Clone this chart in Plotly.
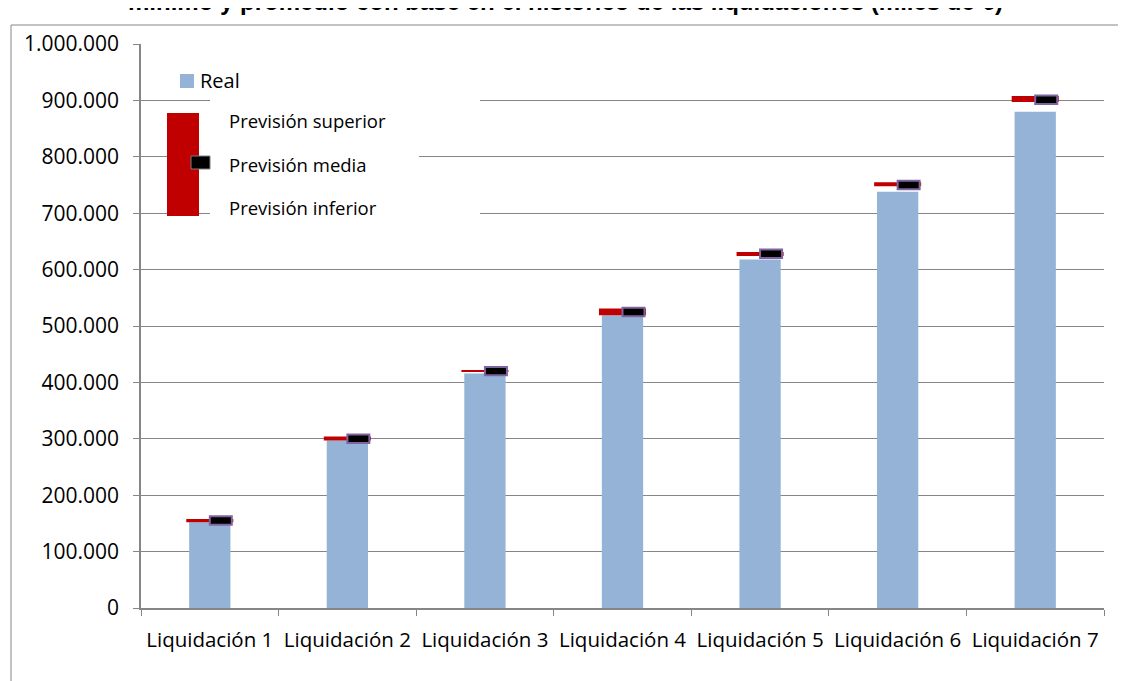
import plotly.graph_objects as go

categories = ["Liquidación 1", "Liquidación 2", "Liquidación 3", "Liquidación 4",
              "Liquidación 5", "Liquidación 6", "Liquidación 7"]
real = [152000, 297000, 416000, 519000, 618000, 738000, 880000]
prev_superior = [158000, 304000, 422000, 531000, 631000, 755000, 908000]
prev_inferior = [152000, 297000, 419000, 519000, 624000, 748000, 897000]
prev_media = [155000, 300000, 420000, 525000, 628000, 750000, 901000]

title_text = "mínimo y promedio con base en el histórico de las liquidaciones (miles de €)"

W, H = 1126, 681
BODY = 8  # default page body margin of the html output
PL, PT, PR, PB = 141, 44, 1104, 608  # plot area in page pixels
PW, PH = PR - PL, PB - PT
ML, MT = PL - BODY, PT - BODY
MR, MB = W - ML - PW, H - MT - PH


def px(x):
    return (x - PL) / PW


def py(y):
    return (PB - y) / PH


BLUE = "#95B3D7"
RED = "#C00000"
PURPLE = "#8064A2"
GRID = "#868686"
FONT = "Open Sans"
MARK_H = 15000

fig = go.Figure()
fig.add_trace(go.Bar(x=categories, y=real, width=0.3, marker_color=BLUE,
                     marker_line_width=0, name="Real", showlegend=False))
fig.add_trace(go.Bar(x=categories,
                     y=[s - i for s, i in zip(prev_superior, prev_inferior)],
                     base=prev_inferior, width=0.342, offset=-0.171,
                     marker_color=RED, marker_line_width=0,
                     name="Previsión superior/inferior", showlegend=False))
fig.add_trace(go.Bar(x=categories, y=[MARK_H] * len(prev_media),
                     base=[m - MARK_H / 2 for m in prev_media],
                     width=0.16, offset=0.0, marker_color="black",
                     marker_line_color=PURPLE, marker_line_width=2,
                     name="Previsión media", showlegend=False))

shapes = []
# outer chart frame
shapes.append(dict(type="rect", xref="paper", yref="paper",
                   x0=px(11), y0=py(25), x1=px(1160), y1=py(720),
                   line=dict(color=GRID, width=1), fillcolor="rgba(0,0,0,0)",
                   layer="above"))
# white backgrounds of legend texts (hide gridlines)
for (x0, x1, yc) in [(210, 480, 100), (210, 419, 156), (210, 480, 212)]:
    shapes.append(dict(type="rect", xref="paper", yref="paper",
                       x0=px(x0), x1=px(x1), y0=py(yc + 3), y1=py(yc - 3),
                       line=dict(width=0), fillcolor="white", layer="above"))
# legend swatches
shapes.append(dict(type="rect", xref="paper", yref="paper",
                   x0=px(180), x1=px(194), y0=py(88), y1=py(74),
                   line=dict(width=0), fillcolor=BLUE, layer="above"))
shapes.append(dict(type="rect", xref="paper", yref="paper",
                   x0=px(167), x1=px(199), y0=py(216), y1=py(113),
                   line=dict(width=0), fillcolor=RED, layer="above"))
shapes.append(dict(type="rect", xref="paper", yref="paper",
                   x0=px(191), x1=px(210), y0=py(169), y1=py(156),
                   line=dict(width=1, color="#7f7f7f"), fillcolor="black",
                   layer="above"))

annotations = [
    dict(text="<b>" + title_text + "</b>", xref="paper", yref="paper",
         x=px(565), y=py(2), xanchor="center", yanchor="middle", showarrow=False,
         font=dict(family="Liberation Sans", size=24, color="black")),
    dict(text="Real", xref="paper", yref="paper", x=px(198), y=py(81),
         xanchor="left", yanchor="middle", showarrow=False,
         font=dict(family=FONT, size=20, color="black")),
    dict(text="Previsión superior", xref="paper", yref="paper", x=px(227), y=py(121),
         xanchor="left", yanchor="middle", showarrow=False,
         font=dict(family=FONT, size=18.5, color="black")),
    dict(text="Previsión media", xref="paper", yref="paper", x=px(227), y=py(164),
         xanchor="left", yanchor="middle", showarrow=False,
         font=dict(family=FONT, size=18.5, color="black")),
    dict(text="Previsión inferior", xref="paper", yref="paper", x=px(227), y=py(207),
         xanchor="left", yanchor="middle", showarrow=False,
         font=dict(family=FONT, size=18.5, color="black")),
]

fig.update_layout(
    width=W, height=H,
    margin=dict(l=ML, r=MR, t=MT, b=MB),
    paper_bgcolor="white", plot_bgcolor="white",
    barmode="overlay",
    separators=",.",
    font=dict(family=FONT, size=18, color="black"),
    shapes=shapes,
    annotations=annotations,
    showlegend=False,
)
fig.update_xaxes(type="category", tickson="boundaries", ticks="outside", ticklen=6,
                 tickcolor=GRID, showline=True, linecolor=GRID, linewidth=1.5,
                 showgrid=False, tickfont=dict(family=FONT, size=20.5, color="black"),
                 ticklabelstandoff=13)
fig.update_yaxes(range=[0, 1000000], dtick=100000, tickformat=",d",
                 ticks="outside", ticklen=6, tickcolor=GRID,
                 showline=True, linecolor=GRID, linewidth=1.5,
                 showgrid=True, gridcolor=GRID, gridwidth=1, zeroline=False,
                 tickfont=dict(family=FONT, size=21, color="black"),
                 ticklabelstandoff=10)

fig.write_html("out.html")
